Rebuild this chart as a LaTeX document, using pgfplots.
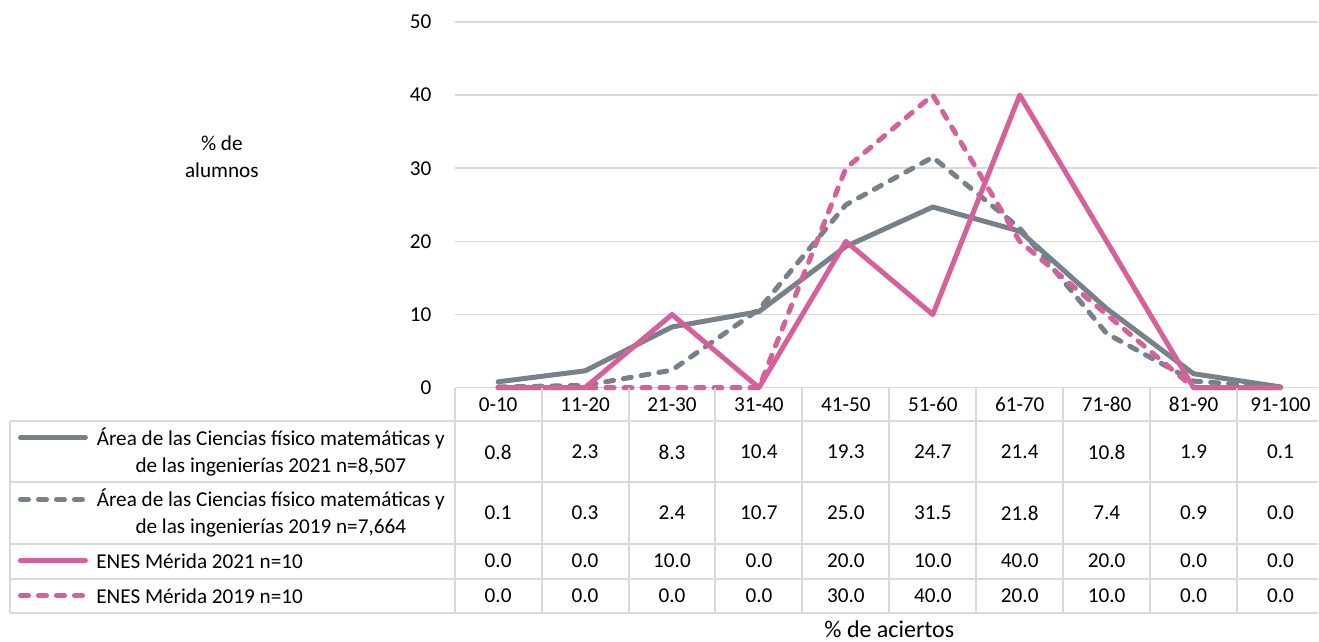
\documentclass[border=0pt]{standalone}
\usepackage{fontspec}
\setmainfont{Carlito}
\usepackage{pgfplots}
\usepackage{pgfplotstable}
\pgfplotsset{compat=1.18}
\definecolor{cgray}{HTML}{77818A}
\definecolor{cpink}{HTML}{D6609A}
\definecolor{cgrid}{HTML}{D9D9D9}
\newcommand\fs{\fontsize{10.6}{13.5}\selectfont}
\pgfplotstableread{
idx a b c d
0 0.8 0.1 0.0 0.0
1 2.3 0.3 0.0 0.0
2 8.3 2.4 10.0 0.0
3 10.4 10.7 0.0 0.0
4 19.3 25.0 20.0 30.0
5 24.7 31.5 10.0 40.0
6 21.4 21.8 40.0 20.0
7 10.8 7.4 20.0 10.0
8 1.9 0.9 0.0 0.0
9 0.1 0.0 0.0 0.0
}\data
\tikzset{
  lg/.style={cgray, line width=2.5pt, line cap=round, line join=round},
  lp/.style={cpink, line width=2.5pt, line cap=round, line join=round},
  dsh/.style={dash pattern=on 4pt off 5pt},
  tb/.style={cgrid, line width=1pt},
}
\pgfplotsset{
  vals/.style={only marks, mark=*, mark size=0pt, mark options={draw=none, fill=none},
    point meta=explicit,
    nodes near coords={\pgfmathprintnumber[fixed,fixed zerofill,precision=1,assume math mode=true]{\pgfplotspointmeta}},
    every node near coord/.append style={anchor=center, text=black, font=\fs, inner sep=0pt}},
}
\begin{document}
\begin{tikzpicture}[font=\fs]
\begin{axis}[
  scale only axis, width=432pt, height=183pt,
  xmin=-0.5, xmax=9.431, ymin=0, ymax=50,
  clip=false,
  axis line style={draw=none},
  ymajorgrids, grid style={cgrid, line width=0.75pt},
  ytick={0,10,...,50},
  xtick={0,...,9},
  xticklabels={0-10,11-20,21-30,31-40,41-50,51-60,61-70,71-80,81-90,91-100},
  major tick length=0pt,
  tick label style={font=\fs},
  yticklabel style={anchor=east, inner sep=0pt, xshift=-11.5pt},
  xticklabel style={anchor=center, inner sep=0pt, yshift=-8.5pt},
  /pgf/number format/assume math mode=true,
]
\path (axis cs:-5.73,-34.70) rectangle (axis cs:9.431,53.0);
% lines
\addplot[lg] table[x=idx, y=a] {\data};
\addplot[lg, dsh] table[x=idx, y=b] {\data};
\addplot[lp] table[x=idx, y=c] {\data};
\addplot[lp, dsh] table[x=idx, y=d] {\data};
% table grid
\draw[tb] (axis cs:-5.615,-4.60) -- (axis cs:9.431,-4.60);
\draw[tb] (axis cs:-5.615,-12.94) -- (axis cs:9.431,-12.94);
\draw[tb] (axis cs:-5.615,-21.31) -- (axis cs:9.431,-21.31);
\draw[tb] (axis cs:-5.615,-26.09) -- (axis cs:9.431,-26.09);
\draw[tb] (axis cs:-5.615,-30.87) -- (axis cs:9.431,-30.87);
\draw[tb] (axis cs:-5.615,-4.60) -- (axis cs:-5.615,-30.87);
\pgfplotsinvokeforeach{-0.5,0.5,1.5,2.5,3.5,4.5,5.5,6.5,7.5,8.5}{
  \draw[tb] (axis cs:#1,0) -- (axis cs:#1,-30.87);
}
% table values
\addplot[vals] table[x=idx, y expr=-8.81, meta=a] {\data};
\addplot[vals] table[x=idx, y expr=-17.15, meta=b] {\data};
\addplot[vals] table[x=idx, y expr=-23.70, meta=c] {\data};
\addplot[vals] table[x=idx, y expr=-28.48, meta=d] {\data};
% legend column
\draw[lg] (axis cs:-5.494,-6.83) -- (axis cs:-4.747,-6.83);
\draw[lg, dsh] (axis cs:-5.494,-15.30) -- (axis cs:-4.747,-15.30);
\draw[lp] (axis cs:-5.494,-23.63) -- (axis cs:-4.747,-23.63);
\draw[lp, dsh] (axis cs:-5.494,-28.42) -- (axis cs:-4.747,-28.42);
\node[align=center, inner sep=0pt] at (axis cs:-2.615,-8.81) {Área de las Ciencias físico matemáticas y\\de las ingenierías 2021 n=8,507};
\node[align=center, inner sep=0pt] at (axis cs:-2.615,-17.15) {Área de las Ciencias físico matemáticas y\\de las ingenierías 2019 n=7,664};
\node[anchor=west, inner sep=0pt] at (axis cs:-4.626,-23.70) {ENES Mérida 2021 n=10};
\node[anchor=west, inner sep=0pt] at (axis cs:-4.626,-28.48) {ENES Mérida 2019 n=10};
% labels
\node[align=center, inner sep=0pt] at (axis cs:-3.178,31.6) {\% de\\alumnos};
\node[inner sep=0pt, font=\fontsize{12}{14}\selectfont] at (axis cs:4.5,-33.0) {\% de aciertos};
\end{axis}
\end{tikzpicture}
\end{document}
